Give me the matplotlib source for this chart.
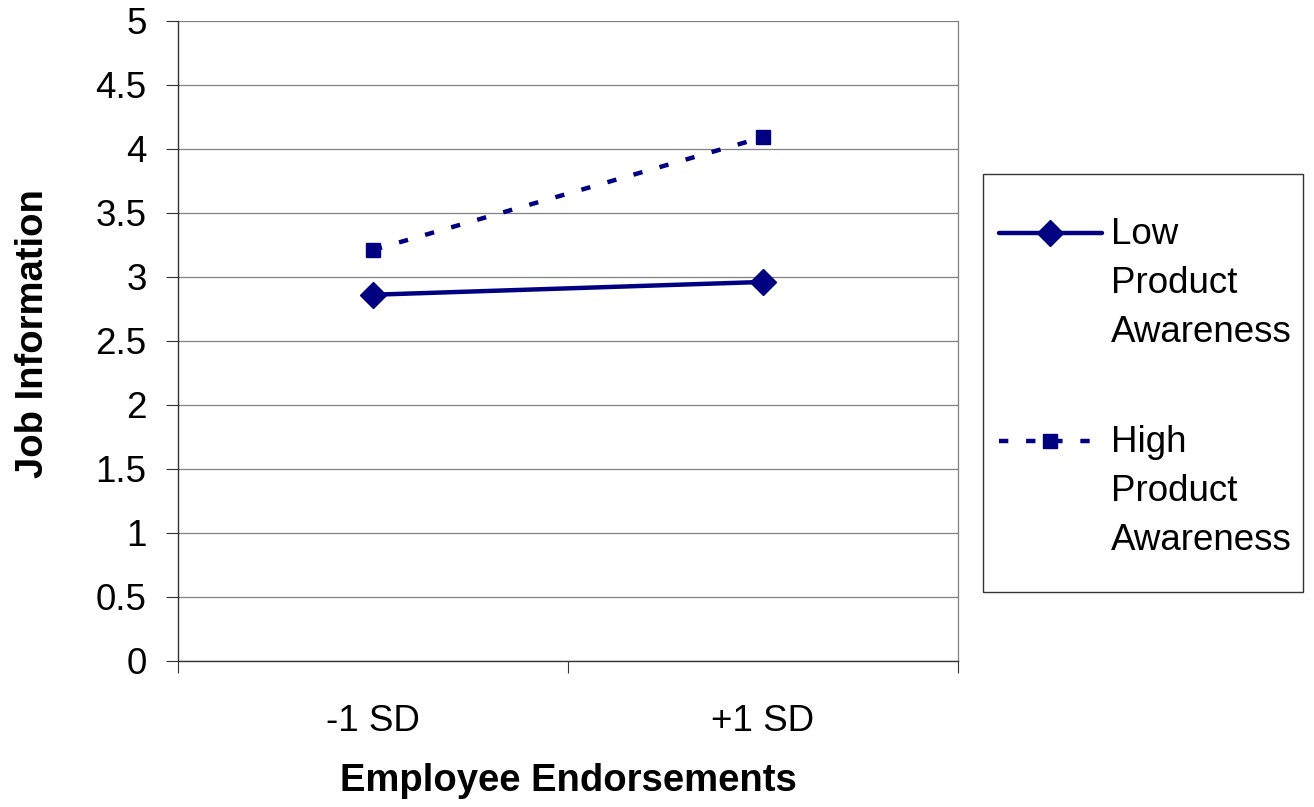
import matplotlib
matplotlib.use("Agg")
import matplotlib.pyplot as plt
from matplotlib.lines import Line2D
from matplotlib.patches import Rectangle

plt.rcParams['font.family'] = ['Liberation Sans', 'DejaVu Sans']

# data
categories = ['-1 SD', '+1 SD']
low_awareness = [2.86, 2.96]
high_awareness = [3.21, 4.09]
series_names = ['Low\nProduct\nAwareness', 'High\nProduct\nAwareness']

NAVY = '#000080'
W, H = 1314, 807

fig = plt.figure(figsize=(W / 100, H / 100), dpi=100)
ax = fig.add_axes([178 / W, 1 - 661 / H, 780 / W, 640.3 / H])

low_style = dict(color=NAVY, lw=3.2, marker='D', markersize=13, solid_capstyle='round')
high_style = dict(color=NAVY, lw=3.2, marker='s', markersize=10, dashes=(2.1, 4.0))

x = list(range(len(categories)))
ax.plot(x, low_awareness, **low_style, zorder=3)
ax.plot(x, high_awareness, **high_style, zorder=3)

ax.set_xlim(-0.5, len(categories) - 0.5)
ax.set_ylim(0, 5)
ax.set_yticks([i * 0.5 for i in range(11)])
ax.set_yticklabels(['0', '0.5', '1', '1.5', '2', '2.5', '3', '3.5', '4', '4.5', '5'])
ax.set_xticks(x)
ax.set_xticklabels(categories)
ax.set_xticks([-0.5, 0.5, 1.5], minor=True)

ax.tick_params(axis='x', which='major', length=0, pad=31, labelsize=26.5)
ax.tick_params(axis='x', which='minor', length=8.6, width=0.8, color='#333333')
ax.tick_params(axis='y', length=8.6, width=0.8, color='#333333', pad=14, labelsize=26.5)

ax.grid(axis='y', color='#808080', lw=0.9, zorder=0)
ax.set_axisbelow(True)
for s in ['left', 'bottom']:
    ax.spines[s].set_color('#333333')
    ax.spines[s].set_linewidth(1.0)
ax.spines['top'].set_visible(False)
ax.spines['right'].set_color('#808080')
ax.spines['right'].set_linewidth(0.9)

ax.set_xlabel('Employee Endorsements', fontsize=27.5, fontweight='bold')
ax.xaxis.set_label_coords(0.5, -0.16)
ax.set_ylabel('Job Information', fontsize=27.5, fontweight='bold')
ax.yaxis.set_label_coords(-0.163, 0.512)


# legend drawn by hand so the key sits on the first text line, like the original
def fx(px):
    return px / W


def fy(py):
    return 1 - py / H


fig.add_artist(Rectangle((fx(983), fy(592)), fx(1303) - fx(983), fy(174) - fy(592),
                         transform=fig.transFigure, fill=False, ec='#333333', lw=1))
for (row_y, text_y), style, name in zip([(233, 244.5), (441, 452.5)], [low_style, high_style], series_names):
    key = Line2D([fx(999), fx(1102)], [fy(row_y), fy(row_y)], transform=fig.transFigure,
                 markevery=[], **style)
    mark = Line2D([fx(1050)], [fy(row_y)], transform=fig.transFigure,
                  color=NAVY, marker=style['marker'], markersize=style['markersize'], lw=0)
    fig.add_artist(key)
    fig.add_artist(mark)
    for i, part in enumerate(name.split('\n')):
        fig.text(fx(1111), fy(text_y + i * 48.7), part, fontsize=26.5,
                 va='baseline', ha='left')

fig.savefig('out.png', dpi=100)
